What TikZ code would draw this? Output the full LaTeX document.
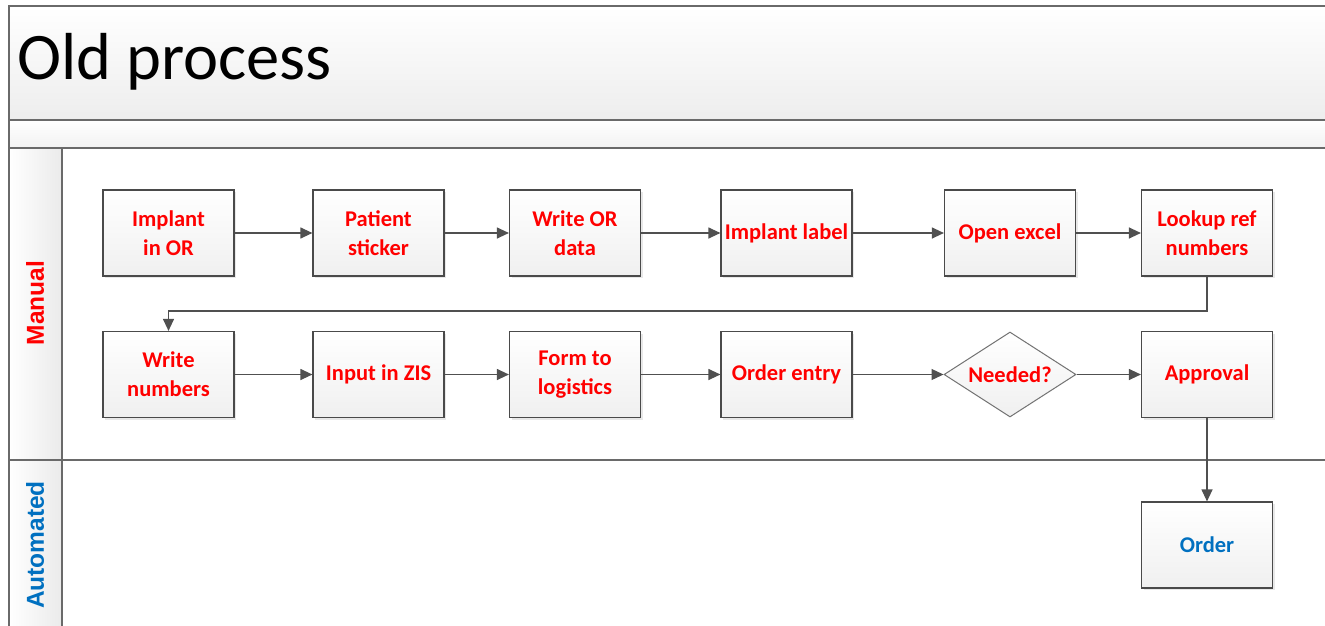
\documentclass[tikz,border=0pt]{standalone}
\usepackage{fontspec}
\setmainfont{Carlito}
\newfontfamily\lanefont{Liberation Sans}
\usetikzlibrary{shapes.geometric,arrows.meta,shadows}
\definecolor{lblue}{HTML}{0070C0}
\definecolor{frame}{HTML}{6A6A6A}
\definecolor{boxline}{HTML}{4A4A4A}
\definecolor{conn}{HTML}{505050}
\tikzset{
  procbox/.style={draw=boxline, line width=1.2pt, top color=white, bottom color=black!6,
    minimum width=131pt, minimum height=86pt, inner sep=2pt, align=center, text=red,
    font=\bfseries\fontsize{22.5}{29}\selectfont,
    drop shadow={opacity=0.18, shadow xshift=2pt, shadow yshift=-2pt}},
  decbox/.style={diamond, draw=black!55, line width=1pt, top color=white, bottom color=black!6,
    minimum width=132pt, minimum height=85pt, inner sep=0pt, text=red,
    font=\bfseries\fontsize{22.5}{24}\selectfont},
  flow/.style={draw=conn, line width=1.2pt, -{Triangle[length=12pt,width=11pt]}},
  lanelbl/.style={rotate=90, font=\lanefont\bfseries\fontsize{24.5}{28}\selectfont},
  frameline/.style={draw=frame, line width=1.6pt}
}
\begin{document}
\begin{tikzpicture}[x=1pt,y=-1pt]
\useasboundingbox (0,0) rectangle (1325,626);
\fill[white] (0,0) rectangle (1325,626);
% title band
\fill[top color=white, bottom color=black!7] (9,6) rectangle (1330,120);
\fill[top color=white, bottom color=black!5] (9,120) rectangle (1330,148);
% lane header column
\fill[left color=white, right color=black!8] (9,148) rectangle (62,630);
% frame lines
\draw[frameline] (1330,6) -- (9,6) -- (9,630);
\draw[frameline] (9,120) -- (1330,120);
\draw[frameline] (9,148) -- (1330,148);
\draw[frameline] (9,460) -- (1330,460);
\draw[frameline] (62,148) -- (62,630);
% title
\node[anchor=base west, inner sep=0pt, font=\fontsize{66.5}{70}\selectfont] (title) at (17,79) {Old process};
% lane labels
\node[lanelbl, text=red] (manual) at (35,303) {Manual};
\node[lanelbl, text=lblue] (auto) at (35,545) {Automated};
% row 1
\node[procbox] (a1) at (168.5,233) {Implant\\in OR};
\node[procbox] (a2) at (378.5,233) {Patient\\sticker};
\node[procbox] (a3) at (575,233) {Write OR\\data};
\node[procbox] (a4) at (786.5,233) {Implant label};
\node[procbox] (a5) at (1010,233) {Open excel};
\node[procbox] (a6) at (1207,233) {Lookup ref\\numbers};
% row 2
\node[procbox] (b1) at (168.5,374.5) {Write\\numbers};
\node[procbox] (b2) at (378.5,374.5) {Input in ZIS};
\node[procbox] (b3) at (575,374.5) {Form to\\logistics};
\node[procbox] (b4) at (786.5,374.5) {Order entry};
\node[decbox] (b5) at (1010,374.5) {\makebox[0pt]{Needed?}};
\node[procbox] (b6) at (1207,374.5) {Approval};
% automated
\node[procbox, text=lblue] (order) at (1207,545) {Order};
\coordinate (turn) at (1207,311);
% connectors
\draw[flow] (a1.east) -- (a2.west);
\draw[flow] (a2.east) -- (a3.west);
\draw[flow] (a3.east) -- (a4.west);
\draw[flow] (a4.east) -- (a5.west);
\draw[flow] (a5.east) -- (a6.west);
\draw[flow] (a6.south) -- (turn) -| (b1.north);
\draw[flow] (b1.east) -- (b2.west);
\draw[flow] (b2.east) -- (b3.west);
\draw[flow] (b3.east) -- (b4.west);
\draw[flow] (b4.east) -- (b5.west);
\draw[flow] (b5.east) -- (b6.west);
\draw[flow] (b6.south) -- (order.north);
\end{tikzpicture}
\end{document}
